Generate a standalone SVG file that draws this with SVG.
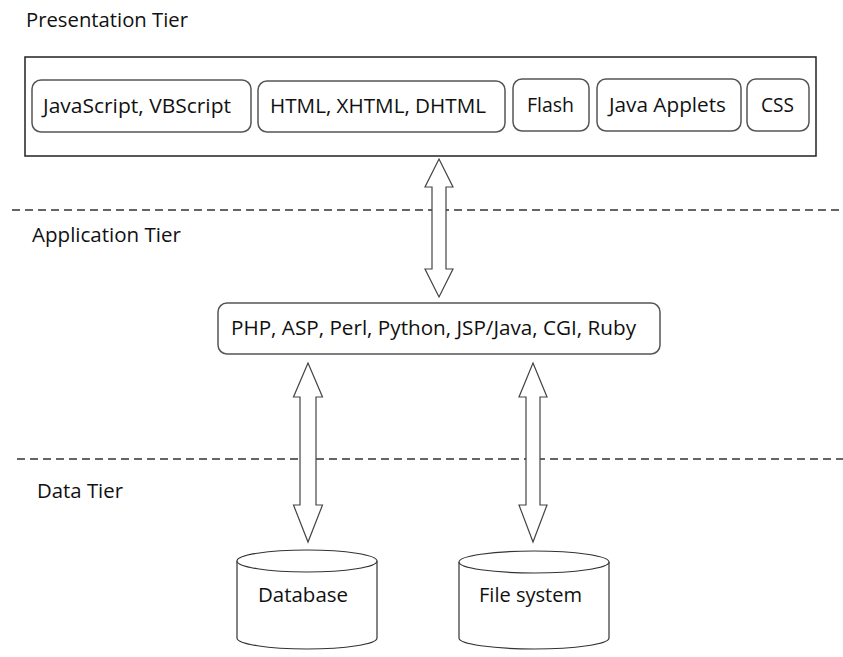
<svg xmlns="http://www.w3.org/2000/svg" width="843" height="657" viewBox="0 0 843 657">
<style>
text{font-family:"Open Sans","Noto Sans","Liberation Sans",sans-serif;font-size:20.5px;fill:#111}
.box{fill:#fff;stroke:#555;stroke-width:1.5}
.outer{fill:#fff;stroke:#222;stroke-width:1.5}
.dash{stroke:#333;stroke-width:1.6;stroke-dasharray:8 5;fill:none}
.arr{fill:#fff;stroke:#444;stroke-width:1.2;stroke-linejoin:miter}
.cyl{fill:#fff;stroke:#333;stroke-width:1.2}
</style>
<rect width="843" height="657" fill="#fff"/>
<g id="tiers">
<line class="dash" x1="12" y1="210" x2="843" y2="210"/>
<line class="dash" x1="17" y1="459" x2="843" y2="459"/>
<text x="26" y="27" textLength="162" lengthAdjust="spacingAndGlyphs">Presentation Tier</text>
<text x="32" y="242" textLength="149" lengthAdjust="spacingAndGlyphs">Application Tier</text>
<text x="37" y="498" textLength="86" lengthAdjust="spacingAndGlyphs">Data Tier</text>
</g>
<g id="presentation">
<rect class="outer" x="25" y="57" width="791" height="99"/>
<g id="js"><rect class="box" x="32" y="80" width="219" height="52" rx="9"/><text x="43" y="113" textLength="188" lengthAdjust="spacingAndGlyphs">JavaScript, VBScript</text></g>
<g id="html"><rect class="box" x="258" y="81" width="247" height="51" rx="9"/><text x="270" y="113" textLength="216" lengthAdjust="spacingAndGlyphs">HTML, XHTML, DHTML</text></g>
<g id="flash"><rect class="box" x="513" y="79" width="76" height="52" rx="9"/><text x="527" y="112" textLength="47" lengthAdjust="spacingAndGlyphs">Flash</text></g>
<g id="applets"><rect class="box" x="597" y="79" width="144" height="52" rx="9"/><text x="609" y="112" textLength="117" lengthAdjust="spacingAndGlyphs">Java Applets</text></g>
<g id="css"><rect class="box" x="747" y="79" width="62" height="52" rx="9"/><text x="761" y="112" textLength="33" lengthAdjust="spacingAndGlyphs">CSS</text></g>
</g>
<g id="application">
<rect class="box" x="218" y="303" width="442" height="51" rx="9"/>
<text x="231" y="335" textLength="405" lengthAdjust="spacingAndGlyphs">PHP, ASP, Perl, Python, JSP/Java, CGI, Ruby</text>
</g>
<g id="database">
<path class="cyl" d="M237 561 V638 A70 11 0 0 0 377 638 V561"/>
<ellipse class="cyl" cx="307" cy="561" rx="70" ry="11"/>
<text x="258" y="602" textLength="90" lengthAdjust="spacingAndGlyphs">Database</text>
</g>
<g id="filesystem">
<path class="cyl" d="M459 562 V638 A75 11 0 0 0 609 638 V562"/>
<ellipse class="cyl" cx="534" cy="562" rx="75" ry="11"/>
<text x="479" y="602" textLength="103" lengthAdjust="spacingAndGlyphs">File system</text>
</g>
<g id="connectors">
<polygon class="arr" points="439,159 453,187 446,187 446,269 453,269 439,297 425,269 432,269 432,187 425,187"/>
<polygon class="arr" points="308,363 322.5,397 316,397 316,505 322.5,505 308,542 293.5,505 300,505 300,397 293.5,397"/>
<polygon class="arr" points="533,363 547,397 540,397 540,505 547,505 533,542 519,505 526,505 526,397 519,397"/>
</g>
</svg>
